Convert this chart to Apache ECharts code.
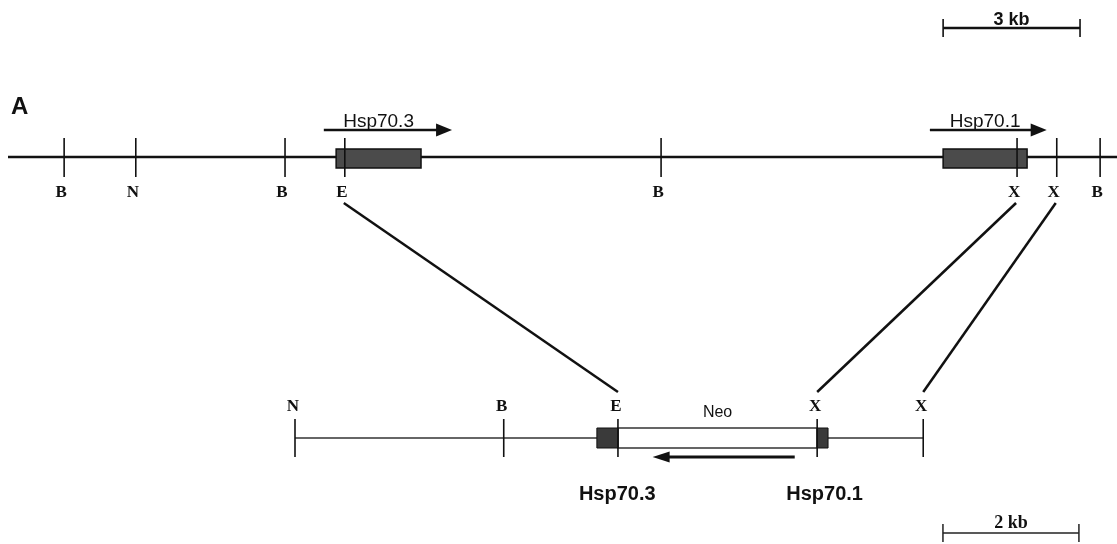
<!DOCTYPE html>
<html>
<head>
<meta charset="utf-8">
<script src="https://cdn.jsdelivr.net/npm/echarts@6/dist/echarts.min.js"></script>
<style>html,body{margin:0;padding:0;background:#fff}#c{width:1117px;height:544px}</style>
</head>
<body>
<div id="c"></div>
<script>
// ---------- DATA (kb) ----------
// Top: genomic map (Hsp70.3 / Hsp70.1 locus)
const topExtent = [0, 24.3];
const topSiteLabels = ['B', 'N', 'B', 'E', 'B', 'X', 'X', 'B'];
const topSitePos = [1.23, 2.80, 6.07, 7.38, 14.31, 22.11, 22.98, 23.93];
const topGeneNames = ['Hsp70.3', 'Hsp70.1'];
const topGeneStart = [7.19, 20.49];
const topGeneEnd = [9.05, 22.33];
const topArrowStart = [6.92, 20.20];
const topArrowEnd = [9.73, 22.76];
const topScale = [20.49, 23.49];   // 3 kb
const topScaleLabel = '3 kb';

// Bottom: targeting construct
const botExtent = [0, 9.24];
const botSiteLabels = ['N', 'B', 'E', 'X', 'X'];
const botSitePos = [0, 3.07, 4.75, 7.68, 9.24];
const botDarkStart = [4.44, 7.68];
const botDarkEnd = [4.75, 7.84];
const neoBox = [4.75, 7.68];
const neoArrow = [7.35, 5.26];       // tail -> head (leftwards)
const botGeneNames = ['Hsp70.3', 'Hsp70.1'];
const botGenePos = [4.74, 7.79];
const botScale = [9.53, 11.53];      // 2 kb
const botScaleLabel = '2 kb';

// Connectors: [top kb, bottom kb]
const connTopPos = [7.38, 22.11, 22.98];
const connBotPos = [4.75, 7.68, 9.24];

// ---------- LAYOUT (pixels on vertical axis) ----------
const L = {
  topLine: 157, tickTop: 138, tickBot: 177, topLabel: 193,
  boxTop: 149, boxBot: 168, arrow: 130, geneLabel: 122,
  scale3: 28, scale3Text: 20,
  botLine: 438, botTickTop: 419, botTickBot: 457, botLabel: 407,
  botBoxTop: 428, botBoxBot: 448, botArrow: 457, botGeneLabel: 494, neoLabel: 413,
  scale2: 533, scale2Text: 523,
  connTop: 203, connBot: 392
};
const INK = '#111';
const SERIF = '"Liberation Serif", "DejaVu Serif", serif';
const SANS = '"Liberation Sans", Arial, sans-serif';

function txt(x, y, text, size, family, weight, extra) {
  return Object.assign({
    type: 'text',
    style: { x: x, y: y, text: text, fontSize: size, fontFamily: family, fontWeight: weight || 'normal',
      fill: INK, align: 'center', verticalAlign: 'middle' }
  }, extra || {});
}
function seg(p1, p2, w, color) {
  return { type: 'line', shape: { x1: p1[0], y1: p1[1], x2: p2[0], y2: p2[1] },
    style: { stroke: color || INK, lineWidth: w } };
}

const chart = echarts.init(document.getElementById('c'), null, { renderer: 'canvas' });

const option = {
  backgroundColor: '#ffffff',
  animation: false,
  grid: [
    { left: 8, right: 0, top: 0, bottom: 0 },
    { left: 295, right: 0, top: 0, bottom: 0 }
  ],
  xAxis: [
    { gridIndex: 0, type: 'value', min: 0, max: 24.3, show: false },
    { gridIndex: 1, type: 'value', min: 0, max: 12.09, show: false }
  ],
  yAxis: [
    { gridIndex: 0, type: 'value', min: 0, max: 544, inverse: true, show: false },
    { gridIndex: 1, type: 'value', min: 0, max: 544, inverse: true, show: false }
  ],
  series: [
    // top backbone
    { type: 'custom', xAxisIndex: 0, yAxisIndex: 0, data: [topExtent], z: 1,
      renderItem: function (p, api) {
        return seg(api.coord([api.value(0), L.topLine]), api.coord([api.value(1), L.topLine]), 2.6);
      } },
    // top gene boxes
    { type: 'custom', xAxisIndex: 0, yAxisIndex: 0, z: 2,
      data: topGeneStart.map((s, i) => [s, topGeneEnd[i]]),
      renderItem: function (p, api) {
        const a = api.coord([api.value(0), L.boxTop]);
        const b = api.coord([api.value(1), L.boxBot]);
        return { type: 'rect', shape: { x: a[0], y: a[1], width: b[0] - a[0], height: b[1] - a[1] },
          style: { fill: '#4b4b4b', stroke: INK, lineWidth: 1.5 } };
      } },
    // top sites
    { type: 'custom', xAxisIndex: 0, yAxisIndex: 0, z: 3,
      data: topSitePos.map(v => [v]),
      renderItem: function (p, api) {
        const t = api.coord([api.value(0), L.tickTop]);
        const b = api.coord([api.value(0), L.tickBot]);
        return { type: 'group', children: [
          seg(t, b, 1.6),
          txt(t[0] - 3, L.topLabel, topSiteLabels[p.dataIndex], 17, SERIF, 'bold')
        ] };
      } },
    // top arrows + gene labels
    { type: 'custom', xAxisIndex: 0, yAxisIndex: 0, z: 3,
      data: topArrowStart.map((s, i) => [s, topArrowEnd[i], (topGeneStart[i] + topGeneEnd[i]) / 2]),
      renderItem: function (p, api) {
        const s = api.coord([api.value(0), L.arrow]);
        const e = api.coord([api.value(1), L.arrow]);
        const c = api.coord([api.value(2), L.geneLabel]);
        return { type: 'group', children: [
          txt(c[0], c[1], topGeneNames[p.dataIndex], 19, SANS, 'normal'),
          seg(s, [e[0] - 10, e[1]], 2.6),
          { type: 'polygon', shape: { points: [[e[0], e[1]], [e[0] - 16, e[1] - 6.5], [e[0] - 16, e[1] + 6.5]] },
            style: { fill: INK } }
        ] };
      } },
    // 3 kb scale bar
    { type: 'custom', xAxisIndex: 0, yAxisIndex: 0, z: 3, data: [topScale],
      renderItem: function (p, api) {
        const a = api.coord([api.value(0), L.scale3]);
        const b = api.coord([api.value(1), L.scale3]);
        return { type: 'group', children: [
          txt((a[0] + b[0]) / 2, L.scale3Text, topScaleLabel, 18, SANS, 'bold'),
          seg(a, b, 2.4),
          seg([a[0], a[1] - 9], [a[0], a[1] + 9], 1.6),
          seg([b[0], b[1] - 9], [b[0], b[1] + 9], 1.6)
        ] };
      } },

    // bottom backbone
    { type: 'custom', xAxisIndex: 1, yAxisIndex: 1, data: [botExtent], z: 1,
      renderItem: function (p, api) {
        return seg(api.coord([api.value(0), L.botLine]), api.coord([api.value(1), L.botLine]), 1.6, '#333');
      } },
    // neo box
    { type: 'custom', xAxisIndex: 1, yAxisIndex: 1, z: 2, data: [neoBox],
      renderItem: function (p, api) {
        const a = api.coord([api.value(0), L.botBoxTop]);
        const b = api.coord([api.value(1), L.botBoxBot]);
        return { type: 'group', children: [
          { type: 'rect', shape: { x: a[0], y: a[1], width: b[0] - a[0], height: b[1] - a[1] },
            style: { fill: '#ffffff', stroke: '#333', lineWidth: 1.6 } },
          txt((a[0] + b[0]) / 2, L.neoLabel, 'Neo', 16, SANS, 'normal')
        ] };
      } },
    // dark exon boxes in construct
    { type: 'custom', xAxisIndex: 1, yAxisIndex: 1, z: 2,
      data: botDarkStart.map((s, i) => [s, botDarkEnd[i]]),
      renderItem: function (p, api) {
        const a = api.coord([api.value(0), L.botBoxTop]);
        const b = api.coord([api.value(1), L.botBoxBot]);
        return { type: 'rect', shape: { x: a[0], y: a[1], width: b[0] - a[0], height: b[1] - a[1] },
          style: { fill: '#3a3a3a', stroke: INK, lineWidth: 1 } };
      } },
    // bottom sites
    { type: 'custom', xAxisIndex: 1, yAxisIndex: 1, z: 3,
      data: botSitePos.map(v => [v]),
      renderItem: function (p, api) {
        const t = api.coord([api.value(0), L.botTickTop]);
        const b = api.coord([api.value(0), L.botTickBot]);
        return { type: 'group', children: [
          seg(t, b, 1.6),
          txt(t[0] - 2, L.botLabel, botSiteLabels[p.dataIndex], 17, SERIF, 'bold')
        ] };
      } },
    // neo arrow (leftwards)
    { type: 'custom', xAxisIndex: 1, yAxisIndex: 1, z: 3, data: [neoArrow],
      renderItem: function (p, api) {
        const s = api.coord([api.value(0), L.botArrow]);
        const e = api.coord([api.value(1), L.botArrow]);
        return { type: 'group', children: [
          seg(s, [e[0] + 10, e[1]], 2.8),
          { type: 'polygon', shape: { points: [[e[0], e[1]], [e[0] + 17, e[1] - 5.5], [e[0] + 17, e[1] + 5.5]] },
            style: { fill: INK } }
        ] };
      } },
    // bottom gene labels
    { type: 'custom', xAxisIndex: 1, yAxisIndex: 1, z: 3, data: botGenePos.map(v => [v]),
      renderItem: function (p, api) {
        const c = api.coord([api.value(0), L.botGeneLabel]);
        return txt(c[0], c[1], botGeneNames[p.dataIndex], 20, SANS, 'bold');
      } },
    // 2 kb scale bar
    { type: 'custom', xAxisIndex: 1, yAxisIndex: 1, z: 3, data: [botScale],
      renderItem: function (p, api) {
        const a = api.coord([api.value(0), L.scale2]);
        const b = api.coord([api.value(1), L.scale2]);
        return { type: 'group', children: [
          seg(a, b, 1.5, '#222'),
          seg([a[0], a[1] - 9], [a[0], a[1] + 9], 1.5, '#222'),
          seg([b[0], b[1] - 9], [b[0], b[1] + 9], 1.5, '#222'),
          txt((a[0] + b[0]) / 2, L.scale2Text, botScaleLabel, 18, SERIF, 'bold')
        ] };
      } }
  ]
};
chart.setOption(option);

// connectors between the two maps, converted through each map's own axes
const connGraphics = connTopPos.map((t, i) => {
  const p1 = chart.convertToPixel({ xAxisIndex: 0, yAxisIndex: 0 }, [t, L.connTop]);
  const p2 = chart.convertToPixel({ xAxisIndex: 1, yAxisIndex: 1 }, [connBotPos[i], L.connBot]);
  return { type: 'line', shape: { x1: p1[0] - 1, y1: p1[1], x2: p2[0], y2: p2[1] },
    style: { stroke: INK, lineWidth: 2.5 }, z: 5 };
});
connGraphics.push({ type: 'text', left: 11, top: 95,
  style: { text: 'A', fontSize: 24, fontFamily: SANS, fontWeight: 'bold', fill: INK } });
chart.setOption({ graphic: connGraphics });
</script>
</body>
</html>
